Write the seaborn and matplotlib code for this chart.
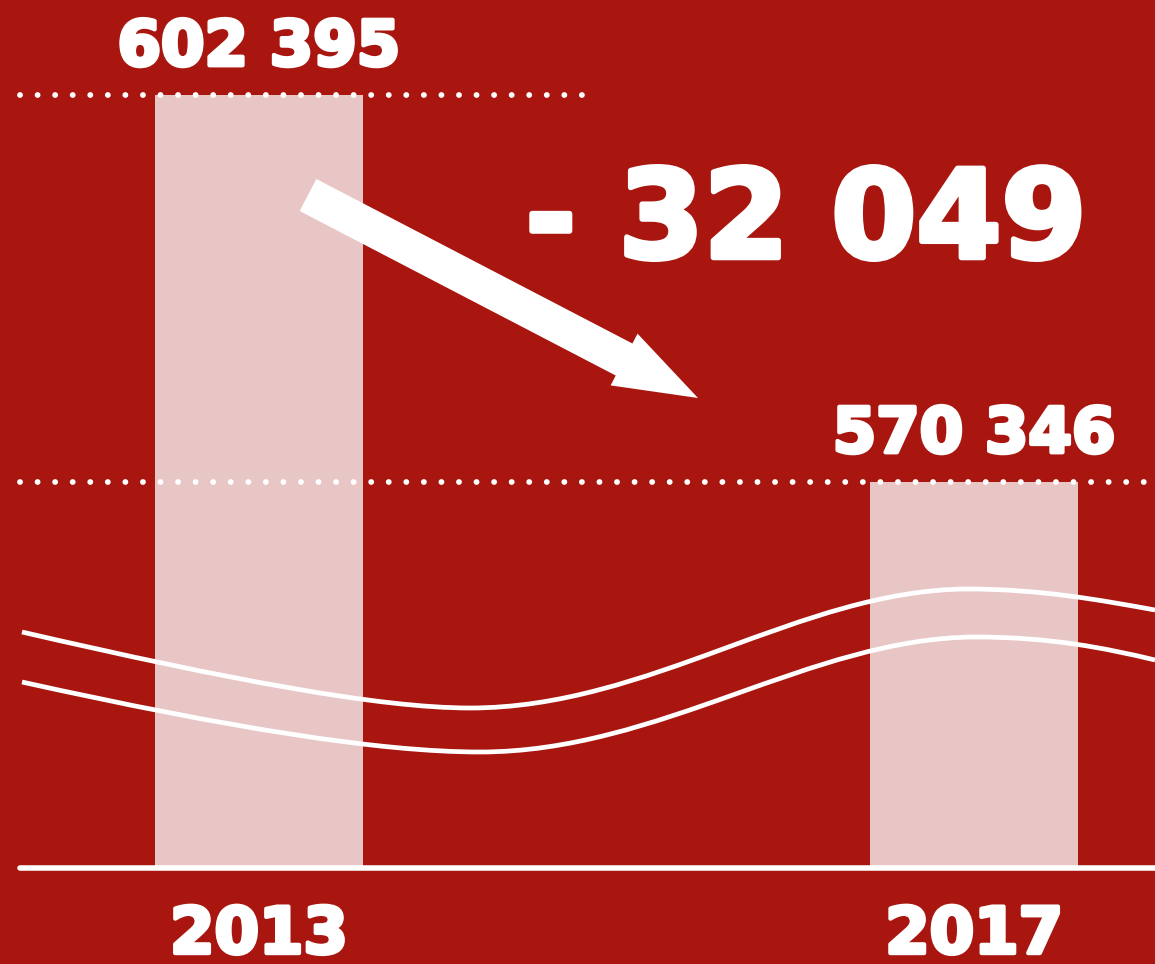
import matplotlib
matplotlib.use("Agg")
import matplotlib.pyplot as plt
import matplotlib.patheffects as pe
from matplotlib.path import Path
from matplotlib.patches import PathPatch
import seaborn as sns

years = ["2013", "2017"]
students = [602395, 570346]
change = students[1] - students[0]

bg = "#A8160F"
bar_col = "#E8C6C6"
y_floor = 538380      # axis is cut here (wavy break lines show it)
y_top = 610262

sns.set_style("white")
plt.rcParams['font.family'] = ['DejaVu Sans']

fig = plt.figure(figsize=(11.55, 9.64), dpi=100, facecolor=bg)
ax = fig.add_axes([0, 96/964, 1, 868/964])
ax.set_facecolor(bg)

sns.barplot(x=years, y=students, color=bar_col, saturation=1, width=0.291,
            linewidth=0, edgecolor=bar_col, ax=ax)
ax.set_xlim(-0.362, 1.253)
ax.set_ylim(y_floor, y_top)

stroke = [pe.withStroke(linewidth=3, foreground="white")]

# value labels with space as thousands separator
labels = [f"{v:,}".replace(",", " ") for v in students]
txts = ax.bar_label(ax.containers[0], labels=labels, padding=12, color="white",
                    fontsize=45, fontweight="bold")
for t in txts:
    t.set_path_effects(stroke)

# dotted guides at the bar tops
dots = dict(color="white", lw=4.2, linestyle=(0, (0.01, 3.0)), dash_capstyle="round", zorder=5)
ax.axhline(students[0], xmin=20/1155, xmax=590/1155, **dots)
ax.axhline(students[1], xmin=20/1155, xmax=1, **dots)

# baseline
ax.axhline(y_floor, xmin=20/1155, xmax=1, color="white", lw=4, clip_on=False, zorder=6)

sns.despine(ax=ax, left=True, bottom=True)
ax.set_yticks([])
ax.set_xlabel(""); ax.set_ylabel("")
ax.tick_params(axis="x", length=0, pad=26, labelsize=46, labelcolor="white")
for lab in ax.get_xticklabels():
    lab.set_fontweight("bold")
    lab.set_path_effects(stroke)

# difference text and arrow
def fx(px, py):
    return (px / 1155, 1 - py / 964)

fig.text(*fx(806, 224), f"- {abs(change):,}".replace(",", " "), color="white",
         fontsize=88, fontweight="bold", ha="center", va="center",
         path_effects=[pe.withStroke(linewidth=4, foreground="white")])

ax.annotate("", xy=fx(698, 398), xytext=fx(308, 195),
            xycoords="figure fraction", textcoords="figure fraction",
            arrowprops=dict(arrowstyle="simple,head_width=4.2,head_length=6,tail_width=2.6",
                            mutation_scale=10, fc="white", ec="none", shrinkA=0, shrinkB=0))

# wavy axis-break lines
def wave(pts):
    verts = [fx(*p) for p in pts]
    codes = [Path.MOVETO] + [Path.CURVE4] * (len(verts) - 1)
    return PathPatch(Path(verts, codes), transform=fig.transFigure, fill=False,
                     ec="white", lw=3.4, clip_on=False, zorder=7)

upper = [(22, 632), (230, 680), (380, 708), (470, 708),
         (650, 708), (800, 590), (967, 589),
         (1040, 589), (1100, 600), (1155, 610)]
lower = [(22, 682), (230, 728), (380, 752), (480, 752),
         (660, 752), (810, 638), (975, 637),
         (1050, 637), (1105, 648), (1155, 660)]
fig.add_artist(wave(upper))
fig.add_artist(wave(lower))

fig.savefig("out.png", dpi=100, facecolor=bg)
